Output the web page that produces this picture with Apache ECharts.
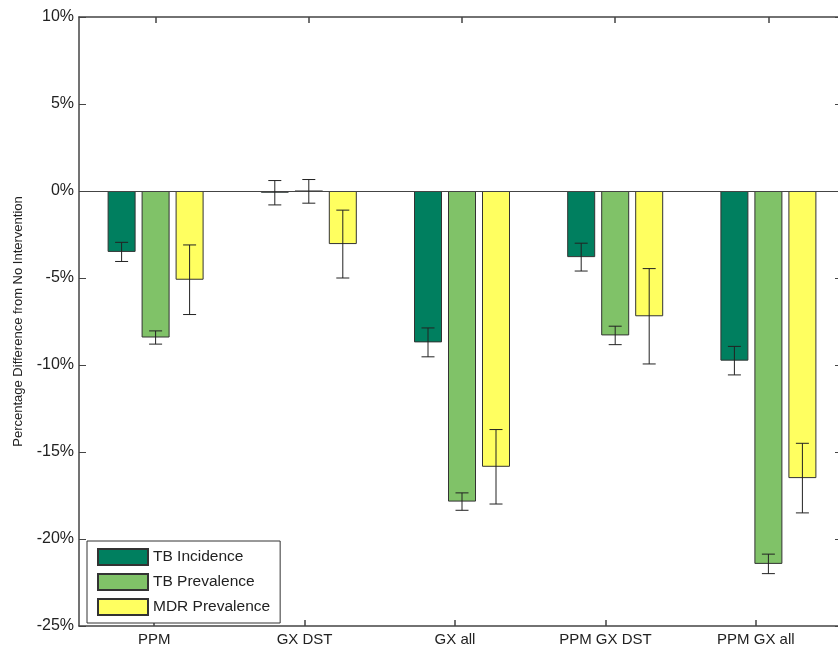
<!DOCTYPE html>
<html><head><meta charset="utf-8">
<script src="https://cdn.jsdelivr.net/npm/echarts@6/dist/echarts.min.js"></script>
<style>html,body{margin:0;padding:0;background:#fff}#c{width:838px;height:648px}</style>
</head><body><div id="c"></div>
<script>
const categories = ['PPM', 'GX DST', 'GX all', 'PPM GX DST', 'PPM GX all'];
const seriesNames = ['TB Incidence', 'TB Prevalence', 'MDR Prevalence'];
const tbIncidence = [-3.5, -0.1, -8.7, -3.8, -9.75];
const tbPrevalence = [-8.42, -0.02, -17.85, -8.3, -21.43];
const mdrPrevalence = [-5.1, -3.05, -15.85, -7.2, -16.5];
const tbIncidenceErr = [0.55, 0.7, 0.83, 0.8, 0.82];
const tbPrevalenceErr = [0.38, 0.68, 0.5, 0.53, 0.56];
const mdrPrevalenceErr = [2.0, 1.95, 2.14, 2.74, 2.0];
const yMin = -25, yMax = 10, yStep = 5;

const colors = ['#007F5F', '#80C268', '#FFFF60'];
const FONT = 'Liberation Sans, Arial, sans-serif';
const BAR_W = 28, BAR_GAP = 6;

const values = [tbIncidence, tbPrevalence, mdrPrevalence];
const errs = [tbIncidenceErr, tbPrevalenceErr, mdrPrevalenceErr];

const chart = echarts.init(document.getElementById('c'), null, {renderer: 'canvas'});

const barSeries = seriesNames.map((n, i) => ({
  name: n,
  type: 'bar',
  data: values[i],
  barWidth: BAR_W,
  barGap: (BAR_GAP / BAR_W * 100) + '%',
  itemStyle: {color: colors[i], borderColor: '#333', borderWidth: 1},
  z: 2,
  markLine: i === 0 ? {
    silent: true, symbol: 'none', label: {show: false},
    lineStyle: {color: '#444', width: 1, type: 'solid'},
    data: [{yAxis: 0}], z: 3
  } : undefined
}));

const errSeries = seriesNames.map((n, i) => ({
  name: n + ' err',
  type: 'custom',
  z: 5,
  data: values[i].map((v, k) => [k, v, errs[i][k]]),
  encode: {x: 0, y: 1},
  renderItem: function (params, api) {
    const k = api.value(0), v = api.value(1), e = api.value(2);
    const off = (i - 1) * (BAR_W + BAR_GAP);
    const hi = api.coord([k, v + e]);
    const lo = api.coord([k, v - e]);
    const x = hi[0] + off;
    const cap = 6.5;
    const style = {stroke: '#222', lineWidth: 1};
    return {
      type: 'group',
      children: [
        {type: 'line', shape: {x1: x, y1: hi[1], x2: x, y2: lo[1]}, style},
        {type: 'line', shape: {x1: x - cap, y1: hi[1], x2: x + cap, y2: hi[1]}, style},
        {type: 'line', shape: {x1: x - cap, y1: lo[1], x2: x + cap, y2: lo[1]}, style}
      ]
    };
  }
}));

const axisCol = '#444';

chart.setOption({
  animation: false,
  backgroundColor: '#fff',
  grid: [
    {left: 79, width: 766, top: 17, bottom: 22, containLabel: false, outerBoundsMode: 'none'},
    {left: 79, width: 752, top: 17, bottom: 22, containLabel: false, outerBoundsMode: 'none'}
  ],
  legend: {
    data: seriesNames,
    orient: 'vertical',
    left: 87, top: 541,
    padding: [7, 10, 7, 10],
    itemWidth: 50, itemHeight: 16, itemGap: 7,
    icon: 'rect',
    borderColor: '#333', borderWidth: 1,
    backgroundColor: '#fff',
    textStyle: {fontFamily: FONT, fontSize: 15.5, color: '#222'}
  },
  xAxis: [{
    gridIndex: 0, type: 'category', data: categories, position: 'bottom',
    axisLine: {onZero: false, lineStyle: {color: axisCol, width: 1.5}},
    axisTick: {show: false}, axisLabel: {show: false}, splitLine: {show: false}
  }, {
    gridIndex: 0, type: 'category', data: categories, position: 'top',
    axisLine: {onZero: false, lineStyle: {color: axisCol, width: 1.5}},
    axisTick: {show: true, interval: 0, inside: true, alignWithLabel: true, length: 6, lineStyle: {color: axisCol, width: 1.5}},
    axisLabel: {show: false}, splitLine: {show: false}
  }, {
    gridIndex: 1, type: 'category', data: categories, position: 'bottom',
    axisLine: {show: false, onZero: false},
    axisTick: {show: true, interval: 0, inside: true, alignWithLabel: true, length: 6, lineStyle: {color: axisCol, width: 1.5}},
    axisLabel: {fontFamily: FONT, fontSize: 15, color: '#222', margin: 6},
    splitLine: {show: false}
  }],
  yAxis: [{
    gridIndex: 0, type: 'value', min: yMin, max: yMax, interval: yStep, position: 'left',
    name: 'Percentage Difference from No Intervention',
    nameLocation: 'middle', nameGap: 54,
    nameTextStyle: {fontFamily: FONT, fontSize: 13, color: '#222'},
    axisLine: {show: true, onZero: false, lineStyle: {color: axisCol, width: 1.5}},
    axisTick: {show: true, inside: true, length: 7, lineStyle: {color: axisCol}},
    axisLabel: {fontFamily: FONT, fontSize: 16, color: '#222', margin: 5, formatter: '{value}%'},
    splitLine: {show: false}
  }, {
    gridIndex: 0, type: 'value', min: yMin, max: yMax, interval: yStep, position: 'right',
    axisLine: {show: true, onZero: false, lineStyle: {color: axisCol, width: 1.5}},
    axisTick: {show: true, inside: true, length: 10, lineStyle: {color: axisCol}},
    axisLabel: {show: false}, splitLine: {show: false}
  }, {
    gridIndex: 1, type: 'value', min: yMin, max: yMax, interval: yStep, show: false
  }],
  series: barSeries.concat(errSeries)
});
</script>
</body></html>
